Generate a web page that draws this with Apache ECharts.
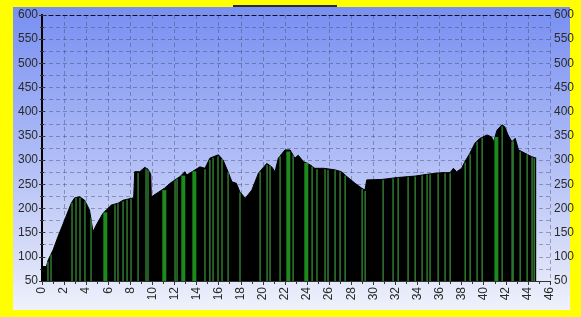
<!DOCTYPE html>
<html>
<head>
<meta charset="utf-8">
<script src="https://cdn.jsdelivr.net/npm/echarts@6/dist/echarts.min.js"></script>
<style>
  html, body { margin: 0; padding: 0; background: #ffff00; }
  #main { width: 581px; height: 317px; }
</style>
</head>
<body>
<div id="main"></div>
<script>
// profile (distance, height)
const profile = [
  [0, 80], [0.4, 80], [0.55, 93], [1.0, 114], [1.45, 142], [2.05, 176], [2.65, 211], [2.96, 222],
  [3.41, 224], [3.86, 217], [4.3, 197], [4.62, 152], [4.92, 166], [5.52, 190], [6.28, 207], [6.9, 211],
  [7.34, 217], [8.3, 222], [8.4, 276], [8.85, 276], [9.3, 285], [9.6, 281], [9.85, 270], [9.9, 224],
  [11.1, 242], [11.6, 252], [12.5, 266], [12.95, 276], [13.1, 269], [14.3, 286], [14.76, 283], [15.2, 304],
  [15.97, 311], [16.4, 300], [16.9, 273], [17.2, 255], [17.6, 252], [17.9, 235], [18.4, 221], [19.0, 238],
  [19.6, 273], [20.35, 293], [20.8, 286], [21.1, 276], [21.4, 304], [22.0, 321], [22.46, 321], [22.9, 304],
  [23.2, 310], [23.67, 297], [24.3, 290], [24.7, 283], [25.5, 283], [26.5, 280], [27.1, 276], [27.6, 266],
  [28.35, 252], [28.95, 242], [29.25, 238], [29.4, 259], [30.8, 260], [32.2, 264], [33.8, 267], [35, 271],
  [36.2, 274], [36.95, 274], [37.25, 283], [37.55, 276], [38.0, 283], [38.3, 297], [38.75, 314], [39.2, 335],
  [39.67, 345], [40.3, 352], [40.7, 348], [40.9, 338], [41.2, 362], [41.65, 373], [41.9, 369], [42.2, 352],
  [42.55, 338], [42.85, 345], [43.15, 321], [43.75, 314], [44.35, 307], [44.75, 304]
];

// thin green markers
const thinBars = [
  [0.54, 90], [0.82, 105], [2.72, 212], [3.08, 222], [3.44, 222], [3.89, 215], [4.44, 180],
  [6.61, 208], [6.88, 210], [7.34, 215], [7.7, 218], [8.06, 220], [8.7, 274], [9.42, 282], [9.6, 279],
  [12.05, 258], [12.23, 261], [14.76, 281], [15.2, 300], [15.49, 305], [15.94, 308], [16.3, 302],
  [16.85, 275], [17.93, 233], [19.75, 276], [20.38, 290], [20.65, 288], [21.56, 308], [22.74, 310],
  [24.46, 287], [24.9, 281], [25.63, 281], [25.9, 280], [26.54, 279], [26.99, 276], [27.45, 268],
  [28.99, 240], [29.26, 236], [30.89, 259], [31.79, 262], [32.25, 263], [33.15, 265], [33.79, 266],
  [34.42, 268], [34.87, 270], [35.14, 270], [35.87, 272], [36.5, 273], [36.96, 273], [38.32, 295],
  [38.77, 312], [39.4, 338], [39.86, 346], [41.67, 370], [42.57, 338], [42.66, 340], [43.3, 318],
  [43.93, 312], [44.38, 306], [44.57, 304]
];

// wide bright green markers
const wideBars = [
  [5.62, 192], [10.96, 238], [12.68, 268], [13.68, 277], [22.19, 318], [23.82, 294], [41.03, 348]
];

const xMin = 0, xMax = 46, yMin = 50, yMax = 600;

const gridLine = { show: true, lineStyle: { color: 'rgba(60,65,100,0.42)', type: [4, 3], width: 1 } };
const labelFont = { color: '#2a2a2a', fontSize: 12, fontFamily: 'Liberation Sans, Arial, sans-serif' };

const chart = echarts.init(document.getElementById('main'));
chart.setOption({
  backgroundColor: '#ffff00',
  animation: false,
  graphic: [
    {
      type: 'rect', z: -10, silent: true,
      shape: { x: 13, y: 7, width: 557, height: 303 },
      style: {
        fill: new echarts.graphic.LinearGradient(0, 0, 0, 1, [
          { offset: 0, color: '#788ff2' },
          { offset: 0.5, color: '#b0bdf6' },
          { offset: 0.88, color: '#dfe4f9' },
          { offset: 1, color: '#f0f2fb' }
        ])
      }
    },
    { type: 'rect', silent: true, shape: { x: 233, y: 5, width: 104, height: 2 }, style: { fill: '#2b2b2b' } }
  ],
  grid: { left: 42, right: 31, top: 15, bottom: 36 },
  xAxis: [
    {
      type: 'value', min: xMin, max: xMax, interval: 2,
      axisLine: { show: true, lineStyle: { color: '#333', width: 1 } },
      axisTick: { show: true, length: 4, lineStyle: { color: '#333' } },
      minorTick: { show: true, splitNumber: 2, length: 3, lineStyle: { color: '#333' } },
      splitLine: gridLine,
      axisLabel: Object.assign({ rotate: 90, margin: 6 }, labelFont)
    },
    {
      type: 'value', min: xMin, max: xMax, position: 'top',
      axisLine: { show: true, lineStyle: { color: '#111', type: [4, 3], width: 1.2 } },
      axisTick: { show: false }, axisLabel: { show: false }, splitLine: { show: false }
    }
  ],
  yAxis: [
    {
      type: 'value', min: yMin, max: yMax, interval: 50, position: 'left',
      axisLine: { show: true, lineStyle: { color: '#000', width: 2 } },
      axisTick: { show: true, length: 3, lineStyle: { color: '#333' } },
      minorTick: { show: true, splitNumber: 2, length: 2, lineStyle: { color: '#333' } },
      splitLine: gridLine,
      minorSplitLine: gridLine,
      axisLabel: Object.assign({ margin: 4 }, labelFont)
    },
    {
      type: 'value', min: yMin, max: yMax, interval: 50, position: 'right',
      axisLine: { show: true, lineStyle: { color: '#000', width: 2 } },
      axisTick: { show: true, length: 3, lineStyle: { color: '#333' } },
      minorTick: { show: true, splitNumber: 2, length: 2, lineStyle: { color: '#333' } },
      splitLine: { show: false },
      axisLabel: Object.assign({ margin: 4 }, labelFont)
    }
  ],
  series: [
    {
      type: 'line', data: profile, showSymbol: false, symbol: 'none',
      lineStyle: { color: '#000', width: 1 },
      areaStyle: { color: '#000', opacity: 1 }, z: 2
    },
    {
      type: 'bar', data: wideBars, barWidth: 4, barGap: '-100%',
      itemStyle: { color: '#1c8a1c' }, z: 3
    },
    {
      type: 'bar', data: thinBars, barWidth: 1.5, barGap: '-100%',
      itemStyle: { color: '#2f7a2f' }, z: 3
    }
  ]
});
</script>
</body>
</html>
